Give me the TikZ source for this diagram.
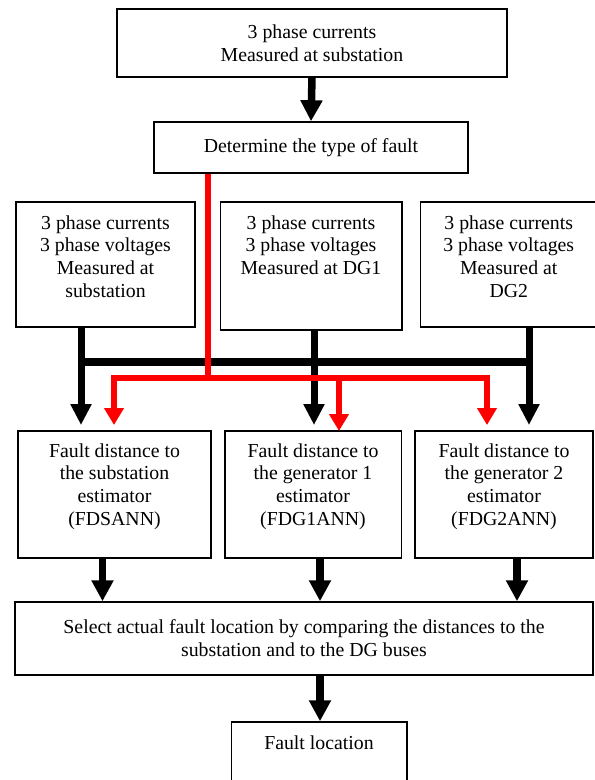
\documentclass[tikz,border=0pt]{standalone}
\usepackage{fontspec}
\setmainfont{Liberation Serif}
\usetikzlibrary{arrows.meta}
\begin{document}
\begin{tikzpicture}[x=1pt,y=-1pt,
  box/.style={draw, line width=1.5pt, inner sep=0pt, align=center,
    font=\fontsize{19.8}{22.8}\selectfont},
  txt/.style={inner sep=0pt, align=center, font=\fontsize{19.8}{22.8}\selectfont},
  blk/.style={line width=7.5pt, -{Triangle[width=21pt,length=21pt]}},
  blkv/.style={line width=7pt, -{Triangle[width=20pt,length=21pt]}},
  barl/.style={line width=8pt},
  redl/.style={red, line width=5.5pt},
  reda/.style={redl, -{Triangle[width=19pt,length=17pt]}}]
\useasboundingbox (0,0) rectangle (595,780);

% boxes
\node[box, minimum width=390pt, minimum height=68pt] (top) at (312,43)
  {3 phase currents\\Measured at substation};
\node[box, minimum width=314pt, minimum height=51pt] (typ) at (311,147.5)
  {Determine the type of fault};

\node[box, minimum width=179pt, minimum height=125pt] (inA) at (105.5,264.5) {};
\node[txt, anchor=north] (inAt) at ([yshift=-14pt]inA.north)
  {3 phase currents\\3 phase voltages\\Measured at\\substation};
\node[box, minimum width=181.5pt, minimum height=128pt] (inB) at (311,266) {};
\node[txt, anchor=north] (inBt) at ([yshift=-14pt]inB.north)
  {3 phase currents\\3 phase voltages\\Measured at DG1};
\node[box, minimum width=176.5pt, minimum height=125pt] (inC) at (508.75,264.5) {};
\node[txt, anchor=north] (inCt) at ([yshift=-14pt]inC.north)
  {3 phase currents\\3 phase voltages\\Measured at\\DG2};

\node[box, minimum width=193pt, minimum height=127pt] (outA) at (114.5,494.5) {};
\node[txt, anchor=north] (outAt) at ([yshift=-13pt]outA.north)
  {Fault distance to\\the substation\\estimator\\(FDSANN)};
\node[box, minimum width=176.5pt, minimum height=127pt] (outB) at (313,494.5) {};
\node[txt, anchor=north] (outBt) at ([yshift=-13pt]outB.north)
  {Fault distance to\\the generator 1\\estimator\\(FDG1ANN)};
\node[box, minimum width=178pt, minimum height=127pt] (outC) at (504,494.5) {};
\node[txt, anchor=north] (outCt) at ([yshift=-13pt]outC.north)
  {Fault distance to\\the generator 2\\estimator\\(FDG2ANN)};

\node[box, minimum width=578pt, minimum height=73pt] (sel) at (304,638.5)
  {Select actual fault location by comparing the distances to the\\substation and to the DG buses};

\node[box, minimum width=175.5pt, minimum height=64pt] (fin) at (319,754) {};
\node[txt, anchor=north] (fint) at ([yshift=-14pt]fin.north) {Fault location};

% top arrow
\draw[blk] (top.south) -- (typ.north);

% black measurement connectors
\coordinate (ba) at (81,425);
\coordinate (bb) at (314,425);
\coordinate (bc) at (529,425);
\coordinate (bl) at (81,362);
\coordinate (br) at (529,362);
\draw[blkv] (inA.south -| ba) -- (ba);
\draw[blkv] (inB.south -| bb) -- (bb);
\draw[blkv] (inC.south -| bc) -- (bc);
\draw[barl] ([xshift=-3.5pt]bl) -- ([xshift=3.5pt]br);

% red fault type connectors
\coordinate (rj) at (208,378);
\coordinate (ra) at (114,425);
\coordinate (rb) at (339,431);
\coordinate (rc) at (487,425);
\draw[redl] (typ.south -| rj) -- (rj);
\draw[reda] (rj) -| (ra);
\draw[reda] (rj) -| (rb);
\draw[reda] (rj) -| (rc);

% estimators to selector
\draw[blk] ([xshift=-12pt]outA.south) -- ([xshift=-12pt]outA.south |- sel.north);
\draw[blk] ([xshift=7pt]outB.south) -- ([xshift=7pt]outB.south |- sel.north);
\draw[blk] ([xshift=13pt]outC.south) -- ([xshift=13pt]outC.south |- sel.north);

% selector to result
\draw[blk] ([xshift=1pt]fin.north |- sel.south) -- ([xshift=1pt]fin.north);
\end{tikzpicture}
\end{document}
